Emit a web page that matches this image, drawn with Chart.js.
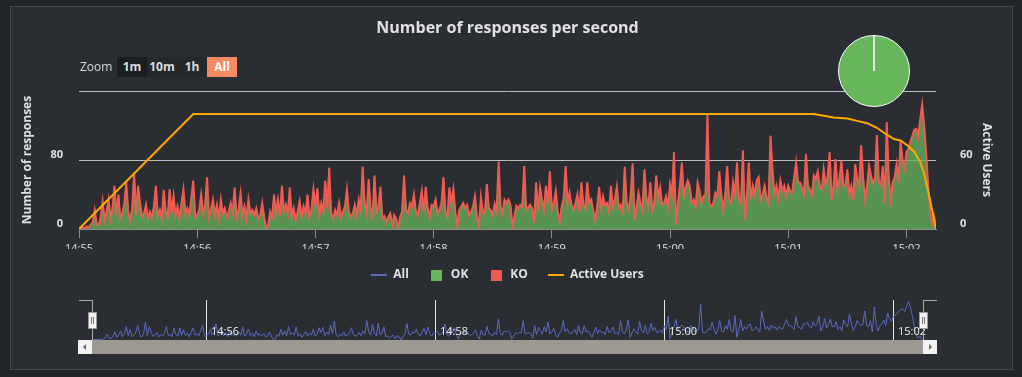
<!DOCTYPE html>
<html>
<head>
<meta charset="utf-8">
<script src="https://cdn.jsdelivr.net/npm/chart.js@4.4.0/dist/chart.umd.min.js"></script>
<style>
    body { margin: 0; width: 1022px; height: 377px; overflow: hidden; background: #222529; font-family: "Open Sans", sans-serif; }
    #panel { position: absolute; left: 10px; top: 6px; width: 1001px; height: 362px; background: #2a2e32; border: 1px solid #45484c; }
    canvas { position: absolute; }
    #main { left: 0; top: 0; }
    #pie { left: 838px; top: 35px; }
    #nav { left: 92px; top: 300px; }
    .zoomLbl { position: absolute; left: 80px; top: 58px; font-size: 12px; line-height: 18px; color: #d8d8d8; }
    .zbtn { position: absolute; top: 57px; width: 30px; height: 20px; line-height: 20px; text-align: center; font-size: 12px; font-weight: bold; color: #dcdcdc; background: #24282c; }
    .outline { position: absolute; background: #aaaaaa; }
    .handle { position: absolute; top: 312px; width: 7px; height: 15px; background: #f2f2f2; border: 1px solid #999; }
    .handle i { position: absolute; top: 4px; width: 1px; height: 7px; background: #777; }
    .sbBtn { position: absolute; top: 340px; width: 14px; height: 14px; background: #f2f2f2; }
    #sbThumb { position: absolute; left: 92px; top: 340px; width: 831px; height: 14px; background: #9b9992; }
    .arrL, .arrR { position: absolute; top: 4px; width: 0; height: 0; border-top: 3px solid transparent; border-bottom: 3px solid transparent; }
    .arrL { left: 5px; border-right: 3px solid #666; }
    .arrR { left: 6px; border-left: 3px solid #666; }
</style>
</head>
<body>
<div id="panel"></div>
<canvas id="main" width="1022" height="292"></canvas>

<div class="zoomLbl">Zoom</div>
<div class="zbtn" style="left:117px; background:#1b1e21;">1m</div>
<div class="zbtn" style="left:147px;">10m</div>
<div class="zbtn" style="left:177px;">1h</div>
<div class="zbtn" style="left:207px; background:#f58a63; color:#ffffff;">All</div>

<canvas id="pie" width="72" height="72"></canvas>

<canvas id="nav" width="850" height="40"></canvas>
<div class="outline" style="left:79px; top:300px; width:13px; height:1px;"></div>
<div class="outline" style="left:92px; top:300px; width:1px; height:40px;"></div>
<div class="outline" style="left:923px; top:300px; width:14px; height:1px;"></div>
<div class="outline" style="left:923px; top:300px; width:1px; height:40px;"></div>
<div id="sbThumb"></div>
<div class="sbBtn" style="left:78px;"><i class="arrL"></i></div>
<div class="sbBtn" style="left:923px;"><i class="arrR"></i></div>
<div class="handle" style="left:88px;"><i style="left:2px"></i><i style="left:4px"></i></div>
<div class="handle" style="left:919px;"><i style="left:2px"></i><i style="left:4px"></i></div>

<script>
//respuestas OK por segundo, un arreglo por minuto (desde 14:55:00)
const okMin1455 = [0,1,2,1,3,2,5,8,22,6,4,14,32,10,20,34,12,24,50,16,40,12,18,30,54,20,10,24,66,16,50,30,14,18,28,12,20,14,26,50,16,22,12,45,20,14,46,18,38,16,26,12,30,46,18,24,16,36,56,14]
const okMin1456 = [16,22,40,18,28,60,14,22,34,16,28,12,34,18,24,14,20,30,18,48,14,22,41,16,26,12,34,18,22,16,24,12,16,30,14,1,4,20,14,40,18,34,16,50,20,28,18,48,14,24,10,20,32,14,26,18,40,14,22,46]
const okMin1457 = [28,47,16,30,20,56,24,71,18,12,22,16,30,14,20,26,46,20,14,18,28,16,34,22,72,30,18,58,24,15,62,20,26,49,12,15,8,14,18,4,16,12,0,14,20,62,22,18,30,26,40,20,16,30,44,20,49,24,14,28]
const okMin1458 = [26,34,18,22,30,60,20,14,48,30,46,20,3,22,26,30,24,28,16,20,26,38,14,3,37,20,18,52,24,22,16,29,20,78,26,18,34,30,34,28,3,14,27,24,28,26,73,22,25,28,24,7,54,20,48,34,22,50,30,67]
const okMin1459 = [22,30,44,20,9,26,36,73,30,42,28,22,30,40,20,54,28,24,54,30,34,22,10,26,49,24,38,28,30,20,50,26,34,49,24,28,20,72,30,22,38,76,10,26,42,30,22,69,36,26,54,22,30,62,36,48,28,30,38,26]
const okMin1500 = [52,40,89,5,30,50,77,38,48,56,50,30,34,26,54,44,30,38,40,134,30,26,30,42,38,67,40,22,40,73,34,30,54,40,77,34,30,91,10,40,77,34,50,40,56,60,34,40,50,36,30,108,69,40,50,36,56,44,50,38]
const okMin1501 = [50,44,42,60,77,54,54,48,40,87,50,46,40,62,58,67,50,46,69,52,60,89,34,50,81,46,58,79,50,50,69,40,50,34,75,58,50,97,60,34,50,73,62,54,58,109,54,50,73,30,124,60,34,54,60,75,54,101,81,70]
const okMin1502 = [89,93,101,108,115,116,107,128,144,120,88,50,22,7,15,0]

//usuarios activos: segundo (desde 14:55:00) y cantidad
const userSec = [0, 58, 373, 383, 390, 395, 400, 405, 410, 414, 417, 421, 424, 427, 429, 432, 435]
const userCount = [0, 100, 100, 97, 96, 94, 92, 88, 82, 78, 77, 72, 67, 58, 48, 25, 0]

//etiquetas del eje de tiempo, una por minuto
const timeLabels = ['14:55', '14:56', '14:57', '14:58', '14:59', '15:00', '15:01', '15:02']

const okPerSec = [].concat(okMin1455, okMin1456, okMin1457, okMin1458, okMin1459, okMin1500, okMin1501, okMin1502)
//no hay KO (el gráfico de torta está entero en verde)
const koPerSec = okPerSec.map(() => 0)
const allPerSec = okPerSec.map((v, i) => v + koPerSec[i])
const secLabels = okPerSec.map((v, i) => i)
const lastSec = secLabels[secLabels.length - 1]

const textColor = '#e0e0e3'
const colorAll = '#5c6bc0'
const colorOk = '#68b65c'
const colorKo = '#f15b4f'
const colorUsers = '#ffa900'

//marcas de la leyenda (línea o cuadrado)
const legendMark = (color, w, h) => {
    const c = document.createElement('canvas')
    c.width = w
    c.height = h
    const g = c.getContext('2d')
    g.fillStyle = color
    g.fillRect(0, 0, w, h)
    return c
}
const legendMarks = [legendMark(colorAll, 16, 2), legendMark(colorOk, 11, 11), legendMark(colorKo, 11, 11), legendMark(colorUsers, 16, 2)]

Chart.defaults.font.family = '"Open Sans", sans-serif'

//gráfico principal
new Chart(document.getElementById('main'), {
    type: 'line',
    data: {
        labels: secLabels,
        datasets: [{
                label: 'All',
                data: allPerSec,
                stack: 'all',
                order: 4,
                borderColor: colorAll,
                borderWidth: 1,
                pointRadius: 0,
                fill: false
            },
            {
                label: 'OK',
                data: okPerSec,
                stack: 'resp',
                order: 2,
                borderColor: 'rgba(0,0,0,0)',
                borderWidth: 1,
                backgroundColor: 'rgba(104,182,92,0.75)',
                pointRadius: 0,
                fill: 'origin'
            },
            {
                label: 'KO',
                data: koPerSec,
                stack: 'resp',
                order: 2,
                borderColor: colorKo,
                borderWidth: 2,
                backgroundColor: 'rgba(241,91,79,0.75)',
                pointRadius: 0,
                fill: '-1'
            },
            {
                label: 'Active Users',
                data: userSec.map((s, i) => ({ x: s, y: userCount[i] })),
                yAxisID: 'y1',
                order: 1,
                borderColor: colorUsers,
                borderWidth: 2,
                pointRadius: 0,
                fill: false
            }
        ]
    },
    options: {
        responsive: false,
        animation: false,
        layout: { padding: { left: 16, right: 23, top: 0, bottom: 1 } },
        plugins: {
            filler: { drawTime: 'beforeDatasetsDraw' },
            title: {
                display: true,
                text: 'Number of responses per second',
                color: textColor,
                font: { size: 16, weight: 'bold' },
                padding: { top: 19, bottom: 52.8 }
            },
            legend: {
                position: 'bottom',
                labels: {
                    color: textColor,
                    font: { size: 12, weight: 'bold' },
                    usePointStyle: true,
                    pointStyleWidth: 16,
                    padding: 20,
                    sort: (a, b) => a.datasetIndex - b.datasetIndex,
                    generateLabels: (chart) => {
                        const items = Chart.defaults.plugins.legend.labels.generateLabels(chart)
                        items.forEach(it => { it.pointStyle = legendMarks[it.datasetIndex] })
                        return items
                    }
                }
            },
            tooltip: { enabled: false }
        },
        scales: {
            x: {
                type: 'linear',
                min: 0,
                max: lastSec,
                afterBuildTicks: (s) => { s.ticks = s.ticks.filter(t => t.value % 60 === 0) },
                afterFit: (s) => { s.height = 20 },
                ticks: {
                    stepSize: 60,
                    autoSkip: false,
                    maxRotation: 0,
                    padding: 4,
                    color: textColor,
                    font: { size: 11 },
                    callback: (v) => timeLabels[v / 60]
                },
                grid: { drawOnChartArea: false, drawTicks: true, tickLength: 9, color: '#8a8d90' },
                border: { display: true, color: '#8a8d90' }
            },
            y: {
                position: 'left',
                stacked: true,
                min: 0,
                max: 160,
                afterFit: (s) => { s.width = 63 },
                ticks: {
                    stepSize: 80,
                    padding: 16,
                    labelOffset: -5,
                    color: textColor,
                    font: { size: 11, weight: 'bold' },
                    callback: (v) => v === 160 ? '' : v
                },
                grid: { color: '#bdbdbd', drawTicks: false },
                border: { display: false },
                title: {
                    display: true,
                    text: 'Number of responses',
                    color: textColor,
                    font: { size: 12, weight: 'bold' },
                    padding: { top: 4.8, bottom: 0 }
                }
            },
            y1: {
                position: 'right',
                min: 0,
                max: 120,
                afterFit: (s) => { s.width = 63 },
                ticks: {
                    stepSize: 60,
                    padding: 16,
                    labelOffset: -5,
                    color: textColor,
                    font: { size: 11, weight: 'bold' },
                    callback: (v) => v === 120 ? '' : v
                },
                grid: { display: false },
                border: { display: false },
                title: {
                    display: true,
                    text: 'Active Users',
                    color: textColor,
                    font: { size: 12, weight: 'bold' },
                    padding: { top: 5.8, bottom: 0 }
                }
            }
        }
    }
});

//torta OK / KO
const okTotal = okPerSec.reduce((a, b) => a + b, 0)
const koTotal = koPerSec.reduce((a, b) => a + b, 0)
new Chart(document.getElementById('pie'), {
    type: 'pie',
    data: {
        labels: ['OK', 'KO'],
        datasets: [{
            data: [okTotal, koTotal],
            backgroundColor: [colorOk, colorKo],
            borderColor: '#ffffff',
            borderWidth: 1
        }]
    },
    options: {
        responsive: false,
        animation: false,
        plugins: { legend: { display: false }, tooltip: { enabled: false } }
    }
});

//líneas y etiquetas del navegador (cada 2 minutos)
const navTicks = timeLabels.map((t, i) => ({ text: t, sec: i * 60 })).filter((t, i) => i % 2 === 1)
const navGrid = {
    id: 'navGrid',
    beforeDatasetsDraw(chart) {
        const { ctx, chartArea, scales: { x } } = chart
        ctx.save()
        ctx.strokeStyle = '#e8e8e8'
        ctx.lineWidth = 1
        navTicks.forEach(t => {
            const px = Math.round(x.getPixelForValue(t.sec)) + 0.5
            ctx.beginPath()
            ctx.moveTo(px, chartArea.top)
            ctx.lineTo(px, chartArea.bottom)
            ctx.stroke()
        })
        ctx.restore()
    },
    afterDatasetsDraw(chart) {
        const { ctx, scales: { x } } = chart
        ctx.save()
        ctx.fillStyle = '#eeeeee'
        ctx.font = '11px "Open Sans", sans-serif'
        ctx.textBaseline = 'middle'
        navTicks.forEach(t => {
            ctx.fillText(t.text, Math.round(x.getPixelForValue(t.sec)) + 5, 32)
        })
        ctx.restore()
    }
}

//navegador con la serie All
new Chart(document.getElementById('nav'), {
    type: 'line',
    data: {
        labels: secLabels,
        datasets: [{
            data: allPerSec,
            borderColor: colorAll,
            borderWidth: 1,
            pointRadius: 0,
            fill: false
        }]
    },
    options: {
        responsive: false,
        animation: false,
        layout: { padding: { left: 0, right: 20, top: 0, bottom: 0 } },
        plugins: { legend: { display: false }, tooltip: { enabled: false } },
        scales: {
            x: { type: 'linear', min: 0, max: lastSec, display: false },
            y: { min: 0, max: 150, display: false }
        }
    },
    plugins: [navGrid]
});
</script>
</body>
</html>
